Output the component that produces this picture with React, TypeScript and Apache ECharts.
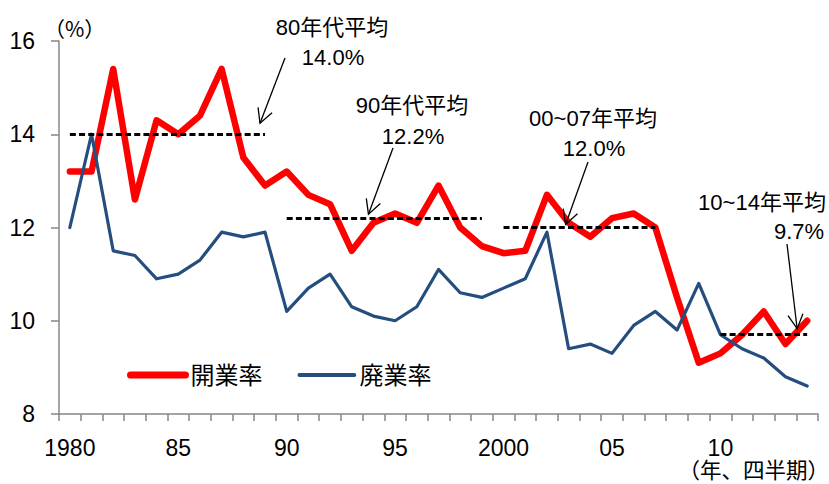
import React, { useEffect, useRef } from "react";
import * as echarts from "echarts";

// ---- data ----
const categories = [
  "1980", "81", "82", "83", "84", "85", "86", "87", "88", "89",
  "90", "91", "92", "93", "94", "95", "96", "97", "98", "99",
  "2000", "01", "02", "03", "04", "05", "06", "07", "08", "09",
  "10", "11", "12", "13", "14",
];
const openingRate = [
  13.2, 13.2, 15.4, 12.6, 14.3, 14.0, 14.4, 15.4, 13.5, 12.9,
  13.2, 12.7, 12.5, 11.5, 12.1, 12.3, 12.1, 12.9, 12.0, 11.6,
  11.45, 11.5, 12.7, 12.1, 11.8, 12.2, 12.3, 12.0, 10.5, 9.1,
  9.3, 9.7, 10.2, 9.5, 10.0,
];
const closingRate = [
  12.0, 14.0, 11.5, 11.4, 10.9, 11.0, 11.3, 11.9, 11.8, 11.9,
  10.2, 10.7, 11.0, 10.3, 10.1, 10.0, 10.3, 11.1, 10.6, 10.5,
  10.7, 10.9, 11.9, 9.4, 9.5, 9.3, 9.9, 10.2, 9.8, 10.8,
  9.7, 9.4, 9.2, 8.8, 8.6,
];
const seriesNames = ["開業率", "廃業率"];
const avgValues = [14.0, 12.2, 12.0, 9.7];
const avgStart = ["1980", "90", "2000", "10"];
const avgEnd = ["89", "99", "07", "14"];
const avgTitles = ["80年代平均", "90年代平均", "00~07年平均", "10~14年平均"];
const avgLabels = ["14.0%", "12.2%", "12.0%", "9.7%"];
const yMin = 8;
const yMax = 16;
const yInterval = 2;
const yUnit = "（%）";
const xUnit = "（年、四半期）";

// ---- annotation layout (pixels) ----
const annTitlePos = [[332, 27], [412, 105], [593, 118], [762, 202]];
const annValuePos = [[333, 57], [413, 136], [594, 148], [799, 231]];
const arrowStart = [[285, 58], [393, 148], [588, 162], [787, 244]];
const arrowTipCat = [9, 14, 23, 34];
const arrowTipOffset = [[-5, -11], [-5, -4], [-3, -3], [-10, -6]];

const FONT = "'Liberation Sans', Arial, 'Noto Sans CJK JP', sans-serif";
const CJK = "'Noto Sans CJK JP', sans-serif";
const RED = "#FF0000";
const BLUE = "#254E7F";

export default function App() {
  const ref = useRef<HTMLDivElement>(null);
  useEffect(() => {
    if (!ref.current) return;
    const chart = echarts.init(ref.current, undefined, { renderer: "svg" });
    const option: any = {
      animation: false,
      backgroundColor: "#ffffff",
      textStyle: { fontFamily: FONT },
      grid: { left: 59, top: 41, width: 759, height: 373, containLabel: false },
      legend: {
        left: 127,
        top: 363,
        padding: 0,
        itemWidth: 55,
        itemHeight: 26,
        itemGap: 35,
        icon: "inherit",
        itemStyle: { opacity: 0 },
        textStyle: { fontSize: 24, color: "#000", fontFamily: FONT },
        data: [
          { name: seriesNames[0], lineStyle: { color: RED, width: 7, cap: "round" } },
          { name: seriesNames[1], lineStyle: { color: BLUE, width: 3.8, cap: "round" } },
        ],
      },
      xAxis: {
        type: "category",
        data: categories,
        boundaryGap: true,
        axisLine: { lineStyle: { color: "#878787", width: 1.5 } },
        axisTick: { show: true, alignWithLabel: false, length: 7, interval: 0, lineStyle: { color: "#878787", width: 1.5 } },
        axisLabel: { interval: 4, fontSize: 23, lineHeight: 23, color: "#000", fontFamily: FONT, margin: 22 },
        splitLine: { show: false },
      },
      yAxis: {
        type: "value",
        min: yMin,
        max: yMax,
        interval: yInterval,
        axisLine: { show: true, lineStyle: { color: "#878787", width: 1.5 } },
        axisTick: { show: true, length: 8, lineStyle: { color: "#878787", width: 1.5 } },
        axisLabel: { fontSize: 23, color: "#000", fontFamily: FONT, margin: 24 },
        splitLine: { show: false },
      },
      series: [
        {
          name: seriesNames[0],
          type: "line",
          data: openingRate,
          symbol: "none",
          z: 2,
          lineStyle: { color: RED, width: 6.5, join: "round", cap: "round" },
          itemStyle: { color: RED },
        },
        {
          name: seriesNames[1],
          type: "line",
          data: closingRate,
          symbol: "none",
          z: 3,
          lineStyle: { color: BLUE, width: 3.2, join: "round", cap: "round" },
          itemStyle: { color: BLUE },
        },
        {
          name: "平均",
          type: "line",
          data: [],
          z: 4,
          markLine: {
            silent: true,
            symbol: ["none", "none"],
            label: { show: false },
            lineStyle: { color: "#000", width: 3, type: [6, 3.2] },
            data: avgValues.map((v, i) => [
              { coord: [avgStart[i], v] },
              { coord: [avgEnd[i], v] },
            ]),
          },
        },
      ],
    };
    chart.setOption(option);

    const graphics: any[] = [];
    graphics.push({
      type: "text",
      x: 44,
      y: 28,
      style: { text: yUnit, font: `21px ${CJK}`, fill: "#000", textAlign: "left", textVerticalAlign: "middle" },
    });
    graphics.push({
      type: "text",
      x: 829,
      y: 468,
      style: {
        text: xUnit,
        font: `21.5px ${CJK}`,
        lineHeight: 18,
        fill: "#000",
        textAlign: "right",
        textVerticalAlign: "middle",
      },
    });
    avgValues.forEach((v, i) => {
      graphics.push({
        type: "text",
        x: annTitlePos[i][0],
        y: annTitlePos[i][1],
        style: { text: avgTitles[i], font: `22px ${FONT}`, fill: "#000", textAlign: "center", textVerticalAlign: "middle" },
      });
      graphics.push({
        type: "text",
        x: annValuePos[i][0],
        y: annValuePos[i][1],
        style: { text: avgLabels[i], font: `22px ${FONT}`, fill: "#000", textAlign: "center", textVerticalAlign: "middle" },
      });
      const base = chart.convertToPixel({ gridIndex: 0 } as any, [arrowTipCat[i], v]) as number[];
      const tip = [base[0] + arrowTipOffset[i][0], base[1] + arrowTipOffset[i][1]];
      const s = arrowStart[i];
      const dx = tip[0] - s[0];
      const dy = tip[1] - s[1];
      const len = Math.sqrt(dx * dx + dy * dy);
      const ux = dx / len;
      const uy = dy / len;
      const L = 16;
      const th = (28 * Math.PI) / 180;
      const wing = (sign: number) => {
        const c = Math.cos(sign * th);
        const sn = Math.sin(sign * th);
        const rx = ux * c - uy * sn;
        const ry = ux * sn + uy * c;
        return [tip[0] - L * rx, tip[1] - L * ry];
      };
      graphics.push({
        type: "line",
        shape: { x1: s[0], y1: s[1], x2: tip[0], y2: tip[1] },
        style: { stroke: "#000", lineWidth: 1.3 },
        z: 10,
      });
      graphics.push({
        type: "polyline",
        shape: { points: [wing(1), tip, wing(-1)] },
        style: { stroke: "#000", lineWidth: 1.3, fill: null },
        z: 10,
      });
    });
    chart.setOption({ graphic: graphics });

    return () => {
      chart.dispose();
    };
  }, []);

  return (
    <div
      ref={ref}
      style={{ position: "absolute", left: 0, top: 0, width: 829, height: 484, background: "#fff" }}
    />
  );
}
